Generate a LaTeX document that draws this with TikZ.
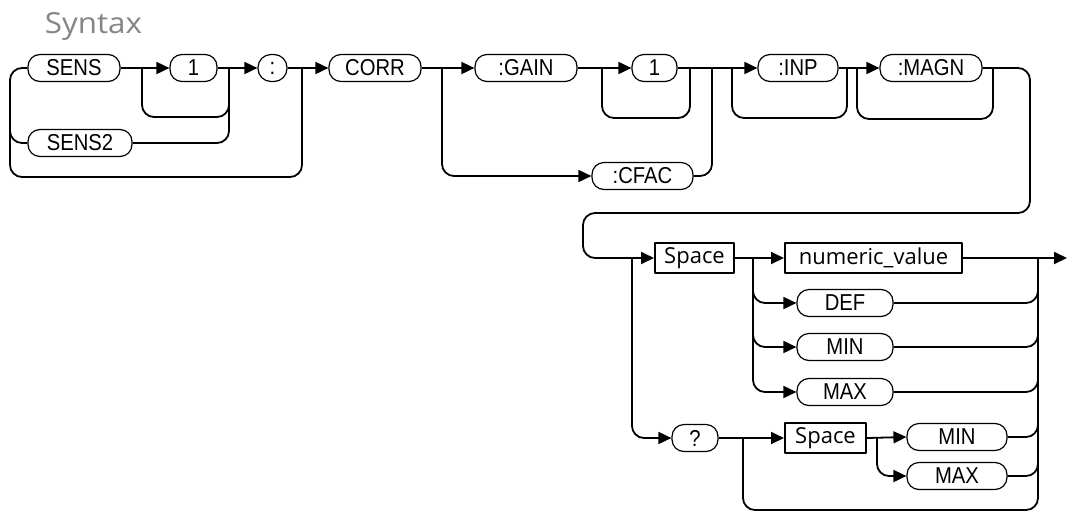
\documentclass[tikz,border=0pt]{standalone}
\usepackage{fontspec}
\setmainfont{Liberation Sans}
\newfontfamily\boxfont[FakeStretch=0.88]{Liberation Sans}
\newfontfamily\plex{Open Sans}
\newfontfamily\plexwide[FakeStretch=1.08]{Open Sans}
\usetikzlibrary{arrows.meta}
\definecolor{titlegray}{HTML}{858585}
\begin{document}
\begin{tikzpicture}[x=1pt,y=-1pt,
  line width=1.8pt, line join=round,
  rbox/.style={draw, line width=1.2pt, rounded corners=12pt, minimum height=27pt, inner sep=0pt, font=\boxfont\fontsize{23}{25}\selectfont},
  sbox/.style={draw, line width=2pt, minimum height=30pt, inner sep=0pt, font=\plex\fontsize{22}{24}\selectfont},
  arr/.style={-{Triangle[length=13pt,width=12pt]}},
  rc/.style={rounded corners=12pt}]
\useasboundingbox (0,0) rectangle (1068,512);
\node[anchor=base west, inner sep=0pt, text=titlegray, font=\plexwide\fontsize{29}{32}\selectfont] (title) at (44,33) {Syntax};
% top row nodes
\node[rbox, minimum width=92pt] (sens) at (74,68) {SENS};
\node[rbox, minimum width=47pt] (one1) at (193.5,68) {1};
\node[rbox, minimum width=29pt, rounded corners=13pt] (colon) at (272.5,68) {:};
\node[rbox, minimum width=104pt] (sens2) at (80,143) {SENS2};
\node[rbox, minimum width=92pt] (corr) at (375,68) {CORR};
\node[rbox, minimum width=102pt] (gain) at (526,68) {:GAIN};
\node[rbox, minimum width=45pt] (one2) at (654.5,68) {1};
\node[rbox, minimum width=101pt] (cfac) at (642.5,176) {:CFAC};
\node[rbox, minimum width=80pt] (inp) at (798,68) {:INP};
\node[rbox, minimum width=102pt] (magn) at (931,68) {:MAGN};
% lower part
\node[sbox, minimum width=79pt] (space1) at (694.5,258) {Space};
\node[sbox, minimum width=177pt] (numval) at (873.5,258) {numeric\_value};
\node[rbox, minimum width=96pt] (def) at (845,303) {DEF};
\node[rbox, minimum width=96pt] (min1) at (845,347) {MIN};
\node[rbox, minimum width=96pt] (max1) at (845,392) {MAX};
\node[rbox, minimum width=46pt] (q) at (695,438) {?};
\node[sbox, minimum width=81pt] (space2) at (825.5,438) {Space};
\node[rbox, minimum width=100pt] (min2) at (957,437) {MIN};
\node[rbox, minimum width=100pt] (max2) at (957,476) {MAX};
\coordinate (endpt) at (1067,258);
% SENS group
\draw[rc] (sens.west) -- (10,68) -- (10,177) -- (302,177) -- (302,68);
\draw[rc] (10,110) -- (10,143) -- (sens2.west);
\draw[rc] (sens2.east) -- (229,143) -- (229,68);
\draw[rc] (142,68) -- (142,117) -- (229,117) -- (229,90);
\draw[arr] (sens.east) -- (one1.west);
\draw[arr] (one1.east) -- (colon.west);
\draw[arr] (colon.east) -- (corr.west);
% CORR / GAIN / CFAC
\draw[arr] (corr.east) -- (gain.west);
\draw[rc,arr] (442,68) -- (442,176) -- (cfac.west);
\draw[arr] (gain.east) -- (one2.west);
\draw[rc] (602,68) -- (602,118) -- (690,118) -- (690,68);
\draw[rc] (cfac.east) -- (712,176) -- (712,68);
\draw[arr] (one2.east) -- (inp.west);
% INP / MAGN
\draw[rc] (732,68) -- (732,118) -- (847,118) -- (847,68);
\draw[arr] (inp.east) -- (magn.west);
\draw[rc] (857,68) -- (857,119) -- (993,119) -- (993,68);
\draw[rc,arr] (magn.east) -- (1030,68) -- (1030,213) -- (583,213) -- (583,258) -- (space1.west);
% second part
\draw[rc,arr] (632,258) -- (632,438) -- (q.west);
\draw[arr] (space1.east) -- (numval.west);
\draw[rc,arr] (753,258) -- (753,303) -- (def.west);
\draw[rc,arr] (753,290) -- (753,347) -- (min1.west);
\draw[rc,arr] (753,330) -- (753,392) -- (max1.west);
\draw[arr] (numval.east) -- (endpt);
\draw[rc] (def.east) -- (1038,303) -- (1038,258);
\draw[rc] (min1.east) -- (1038,347) -- (1038,290);
\draw[rc] (max1.east) -- (1038,392) -- (1038,330);
\draw[rc] (min2.east) -- (1038,437) -- (1038,380);
\draw[rc] (max2.east) -- (1038,476) -- (1038,420);
\draw[arr] (q.east) -- (space2.west);
\draw[rc] (743,438) -- (743,510) -- (1038,510) -- (1038,460);
\draw[arr] (space2.east) -- (min2.west);
\draw[rc,arr] (877,438) -- (877,476) -- (max2.west);
\end{tikzpicture}
\end{document}
